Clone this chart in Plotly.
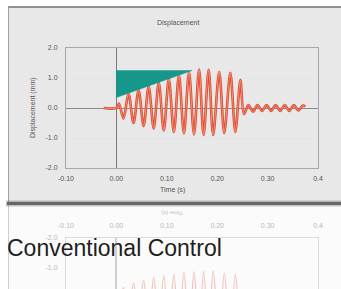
import plotly.graph_objects as go

W, H = 341, 289

# ---- data ----
time_s = [-0.025, 0.000, 0.005, 0.014, 0.024, 0.034, 0.044, 0.054, 0.064, 0.074,
          0.084, 0.094, 0.104, 0.114, 0.124, 0.134, 0.144, 0.154, 0.164, 0.173,
          0.183, 0.192, 0.204, 0.214, 0.226, 0.236, 0.246, 0.253, 0.262, 0.271,
          0.280, 0.289, 0.298, 0.307, 0.316, 0.325, 0.334, 0.343, 0.352, 0.361,
          0.370, 0.375]
disp_mm = [0.00, 0.00, 0.15, -0.35, 0.48, -0.50, 0.60, -0.60, 0.72, -0.68,
           0.85, -0.75, 0.97, -0.80, 1.10, -0.85, 1.20, -0.88, 1.28, -0.90,
           1.27, -0.90, 1.20, -0.83, 1.17, -0.80, 0.93, -0.20, 0.10, -0.12,
           0.10, -0.10, 0.10, -0.10, 0.10, -0.10, 0.10, -0.10, 0.10, -0.08,
           0.08, 0.05]

wedge_t = [0.0, 0.15, 0.0, 0.0]
wedge_d = [1.25, 1.25, 0.35, 1.25]

x_tickvals = [-0.10, 0.00, 0.10, 0.20, 0.30, 0.40]
x_ticktext = ["-0.10", "0.00", "0.10", "0.20", "0.30", "0.4"]
y_tickvals = [2.0, 1.0, 0.0, -1.0, -2.0]
y_ticktext = ["2.0", "1.0", "0.0", "-1.0", "-2.0"]

chart_title = "Displacement"
x_title = "Time (s)"
y_title = "Displacement (mm)"
caption = "Conventional Control"

# ---- geometry helpers ----
def px(x):
    return x / W

def py(y):
    return 1 - y / H

FONT = "Liberation Sans"

fig = go.Figure()

# main chart traces
fig.add_trace(go.Scatter(x=time_s, y=disp_mm, mode="lines",
                         line=dict(color="#e0462a", width=2.6, shape="spline", smoothing=0.9),
                         xaxis="x", yaxis="y", hoverinfo="skip", showlegend=False))
fig.add_trace(go.Scatter(x=time_s, y=disp_mm, mode="lines",
                         line=dict(color="#f3a28a", width=0.8, shape="spline", smoothing=0.9),
                         xaxis="x", yaxis="y", hoverinfo="skip", showlegend=False))
fig.add_trace(go.Scatter(x=wedge_t, y=wedge_d, mode="lines", fill="toself",
                         fillcolor="#17968a", line=dict(color="#17968a", width=0.5),
                         xaxis="x", yaxis="y", hoverinfo="skip", showlegend=False))

# reflection traces (faded, mirrored)
fig.add_trace(go.Scatter(x=time_s, y=disp_mm, mode="lines",
                         line=dict(color="rgba(225,90,70,0.35)", width=1.2, shape="spline", smoothing=0.9),
                         xaxis="x2", yaxis="y2", hoverinfo="skip", showlegend=False))

common_font = dict(family=FONT, size=7, color="#555")

fig.update_layout(
    width=W, height=H,
    margin=dict(l=0, r=0, t=0, b=0, pad=0),
    paper_bgcolor="white",
    plot_bgcolor="#f5f5f5",
    showlegend=False,
    xaxis=dict(domain=[px(66), px(318)], range=[-0.10, 0.40], anchor="y", automargin=False,
               tickvals=x_tickvals, ticktext=x_ticktext, tickfont=common_font,
               showgrid=False, zeroline=True, zerolinecolor="#7a7a7a", zerolinewidth=1,
               showline=True, linecolor="#a8a8a8", linewidth=1, mirror=True,
               ticks="", ticklabelstandoff=4),
    yaxis=dict(domain=[py(168), py(48)], range=[-2.0, 2.0], anchor="x", automargin=False,
               tickvals=y_tickvals, ticktext=y_ticktext, tickfont=common_font,
               showgrid=True, gridcolor="#e4e4e4", gridwidth=1,
               zeroline=True, zerolinecolor="#8a8a8a", zerolinewidth=1,
               showline=True, linecolor="#a8a8a8", linewidth=1, mirror=True,
               ticks="", ticklabelstandoff=6),
    xaxis2=dict(domain=[px(66), px(318)], range=[-0.10, 0.40], anchor="y2", side="top",
                automargin=False,
                tickvals=x_tickvals, ticktext=x_ticktext,
                tickfont=dict(family=FONT, size=7, color="#b8b8b8"),
                showgrid=False, zeroline=True, zerolinecolor="#d0d0d0",
                showline=True, linecolor="#dcdcdc", linewidth=1, mirror=True,
                ticks="", ticklabelstandoff=6),
    yaxis2=dict(domain=[0, py(238)], range=[-0.3, -2.0], anchor="x2", automargin=False,
                tickvals=y_tickvals, ticktext=y_ticktext,
                tickfont=dict(family=FONT, size=7, color="#b8b8b8"),
                showgrid=False, zeroline=False,
                showline=True, linecolor="#dcdcdc", linewidth=1, mirror=True,
                ticks="", ticklabelstandoff=6),
)

# card background & frame
fig.add_shape(type="rect", xref="paper", yref="paper",
              x0=px(8), x1=1.0, y0=py(203), y1=py(7),
              fillcolor="#e8e8e8", line=dict(width=0), layer="below")
fig.add_shape(type="line", xref="paper", yref="paper",
              x0=px(8), x1=1.0, y0=py(7), y1=py(7),
              line=dict(color="#707070", width=1.5), layer="below")
fig.add_shape(type="line", xref="paper", yref="paper",
              x0=px(8.5), x1=px(8.5), y0=py(203), y1=py(7),
              line=dict(color="#a0a0a0", width=1), layer="below")
# reflection card (faint)
fig.add_shape(type="rect", xref="paper", yref="paper",
              x0=px(8), x1=1.0, y0=0, y1=py(205),
              fillcolor="#fbfbfb", line=dict(width=0), layer="below")
fig.add_shape(type="line", xref="paper", yref="paper",
              x0=px(8.5), x1=px(8.5), y0=0, y1=py(205),
              line=dict(color="#cfcfcf", width=1), layer="below")
# bottom shadow bar
fig.add_shape(type="line", xref="paper", yref="paper",
              x0=px(6), x1=1.0, y0=py(203.5), y1=py(203.5),
              line=dict(color="rgba(90,90,90,0.35)", width=6))
fig.add_shape(type="line", xref="paper", yref="paper",
              x0=px(7), x1=1.0, y0=py(203.5), y1=py(203.5),
              line=dict(color="#666666", width=3))

# text
def note(x, y, text, size, color, angle=0, xanchor="center"):
    fig.add_annotation(xref="paper", yref="paper", x=px(x), y=py(y),
                       xanchor=xanchor, yanchor="middle",
                       text=text, showarrow=False, textangle=angle,
                       font=dict(family=FONT, size=size, color=color))

note(178, 23, chart_title, 7, "#555")
note(172, 190, x_title, 7, "#555")
note(33, 108, y_title, 7, "#555", angle=-90)
note(172, 213, x_title, 6, "#c0c0c0", angle=180)
fig.add_annotation(xref="paper", yref="paper", x=px(5), y=py(248),
                   xanchor="left", yanchor="middle",
                   text=caption, showarrow=False,
                   font=dict(family=FONT, size=23, color="#1e1e1e"))

fig.write_html("out.html", config={"displayModeBar": False},
               post_script="document.body.style.margin='0';document.body.style.overflow='hidden';")
